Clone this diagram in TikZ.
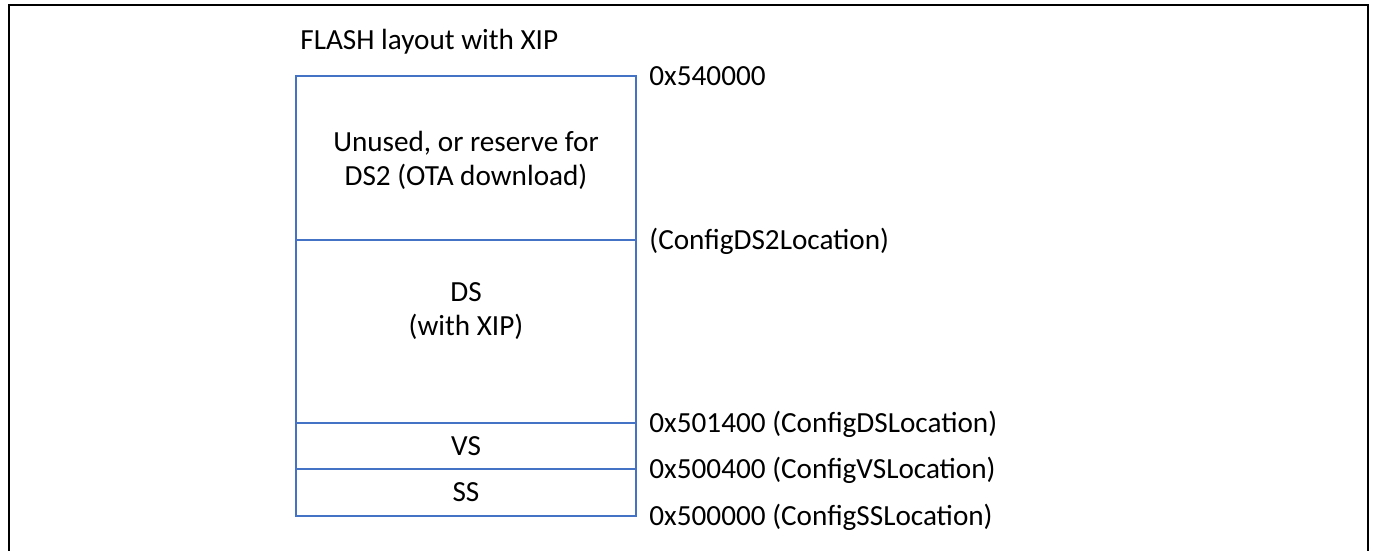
\documentclass[tikz,border=0pt]{standalone}
\usepackage{fontspec}
\setmainfont{Carlito}
\usetikzlibrary{positioning}

\definecolor{mapblue}{HTML}{4472C4}

\begin{document}
\begin{tikzpicture}[
    x=.5pt, y=-.5pt,
    frame/.style={line width=1.35pt},
    region/.style={draw=mapblue, line width=.7pt, minimum width=170pt,
        inner sep=0pt, outer sep=0pt},
    txt/.style={font=\fontsize{14.6}{16.9}\selectfont, align=center, inner sep=0pt},
    addr/.style={txt, anchor=base west},
]
    \useasboundingbox (0,0) rectangle (1375,551);

    %% outer frame, runs off the bottom of the page
    \draw[frame] (9,570) -- (9,5) -- (1368,5) -- (1368,570);

    %% flash regions, top to bottom
    \node[region, anchor=north west, minimum height=82pt] (free) at (296,76) {};
    \node[region, below=0pt of free, minimum height=91.5pt] (dsreg) {};
    \node[region, below=0pt of dsreg, minimum height=23pt] (vsreg) {};
    \node[region, below=0pt of vsreg, minimum height=23.5pt] (ssreg) {};

    \node[txt] at ([yshift=-1pt]free.center) {Unused, or reserve for\\DS2 (OTA download)};
    \node[txt] at ([yshift=-35.5pt]dsreg.north) {DS\\(with XIP)};
    \node[txt] at (vsreg.center) {VS};
    \node[txt] at (ssreg.center) {SS};

    \node[addr] at ([shift={(2pt,13pt)}]free.north west) {FLASH layout with XIP};

    %% addresses sit on the region borders
    \foreach \b/\t in {free.north east/0x540000,
                       free.south east/(ConfigDS2Location),
                       dsreg.south east/0x501400 (ConfigDSLocation),
                       vsreg.south east/0x500400 (ConfigVSLocation),
                       ssreg.south east/0x500000 (ConfigSSLocation)}{
        \node[addr] at ([shift={(6.5pt,-4.6pt)}]\b) {\t};
    }
\end{tikzpicture}
\end{document}
